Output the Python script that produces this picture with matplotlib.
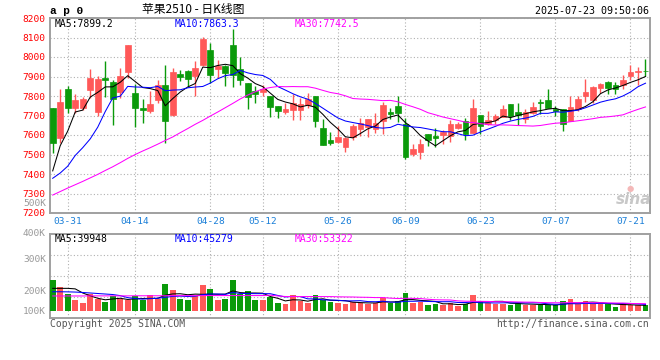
import numpy as np
import pandas as pd
import matplotlib
matplotlib.use('Agg')
import matplotlib.pyplot as plt

# trading days (exchange holidays removed)
holidays = ['2025-04-04', '2025-05-01', '2025-05-02', '2025-05-05', '2025-06-02']
days = pd.bdate_range('2025-03-27', '2025-07-23')
days = days[~days.isin(pd.to_datetime(holidays))]
day_labels = list(days.strftime('%m-%d'))
tick_dates = ['03-31', '04-14', '04-28', '05-12', '05-26', '06-09', '06-23', '07-07', '07-21']

opens = [7737, 7587, 7838, 7738, 7738, 7830, 7717, 7891, 7874, 7821,
         7921, 7813, 7741, 7723, 7782, 7854, 7702, 7915, 7928, 7904,
         7961, 8037, 7939, 7955, 8063, 7940, 7869, 7828, 7821, 7802,
         7751, 7717, 7728, 7726, 7753, 7802, 7634, 7573, 7563, 7539,
         7590, 7629, 7643, 7632, 7672, 7719, 7748, 7655, 7502, 7513,
         7604, 7593, 7600, 7595, 7634, 7672, 7612, 7700, 7655, 7675,
         7692, 7757, 7719, 7680, 7714, 7770, 7777, 7731, 7731, 7672,
         7731, 7799, 7779, 7842, 7872, 7854, 7854, 7901, 7921, 7930]
highs = [7740, 7838, 7853, 7811, 7795, 7938, 7903, 7981, 7884, 7944,
         8063, 7859, 7784, 7828, 7884, 7961, 7944, 7935, 7935, 7981,
         8102, 8071, 7986, 7960, 8144, 7998, 7869, 7853, 7855, 7802,
         7751, 7765, 7811, 7791, 7816, 7802, 7680, 7617, 7646, 7590,
         7658, 7689, 7683, 7711, 7770, 7740, 7802, 7685, 7553, 7578,
         7604, 7634, 7624, 7675, 7668, 7689, 7787, 7700, 7723, 7709,
         7753, 7757, 7765, 7731, 7770, 7786, 7838, 7748, 7731, 7802,
         7799, 7889, 7850, 7869, 7877, 7872, 7910, 7957, 7949, 7991]
lows = [7510, 7561, 7711, 7711, 7730, 7791, 7697, 7797, 7651, 7791,
        7893, 7641, 7661, 7711, 7765, 7561, 7700, 7879, 7845, 7802,
        7955, 7867, 7893, 7850, 7845, 7855, 7731, 7763, 7799, 7692,
        7689, 7706, 7677, 7675, 7740, 7641, 7549, 7549, 7560, 7513,
        7576, 7595, 7590, 7612, 7604, 7680, 7668, 7478, 7493, 7476,
        7544, 7536, 7553, 7566, 7629, 7575, 7610, 7604, 7651, 7655,
        7690, 7675, 7651, 7663, 7706, 7709, 7736, 7697, 7621, 7670,
        7723, 7770, 7765, 7816, 7808, 7808, 7838, 7881, 7855, 7904]
closes = [7560, 7768, 7741, 7782, 7787, 7894, 7889, 7881, 7784, 7904,
          8063, 7738, 7728, 7757, 7854, 7672, 7923, 7896, 7886, 7944,
          8091, 7910, 7952, 7916, 7910, 7884, 7797, 7811, 7838, 7743,
          7723, 7731, 7765, 7757, 7787, 7672, 7549, 7559, 7590, 7585,
          7644, 7660, 7680, 7660, 7753, 7709, 7711, 7485, 7527, 7553,
          7573, 7585, 7614, 7655, 7655, 7607, 7736, 7646, 7675, 7697,
          7731, 7697, 7702, 7719, 7745, 7762, 7736, 7723, 7658, 7746,
          7787, 7818, 7845, 7864, 7842, 7836, 7884, 7923, 7930, 7927]
# volume in thousands of lots
volumes = [298, 233, 162, 104, 78, 162, 113, 87, 143, 113,
           104, 143, 104, 152, 113, 259, 201, 113, 104, 143,
           250, 211, 104, 113, 298, 168, 191, 104, 104, 136,
           81, 65, 159, 94, 78, 159, 104, 87, 81, 72,
           87, 81, 72, 78, 126, 78, 94, 175, 81, 87,
           55, 65, 62, 81, 49, 72, 152, 94, 78, 72,
           72, 62, 81, 55, 62, 55, 62, 55, 94, 113,
           65, 94, 65, 72, 65, 39, 72, 55, 55, 55]

ma5_head = [7416, 7545, 7620, 7718]
ma10_head = [7378, 7405, 7440, 7495, 7535, 7580, 7640, 7720, 7790]
ma30_head = [7292, 7310, 7328, 7345, 7362, 7380, 7398, 7418, 7437, 7458,
             7480, 7500, 7518, 7535, 7553, 7572, 7590, 7612, 7633, 7655,
             7675, 7697, 7718, 7740, 7762, 7785, 7805, 7822, 7836]
vma5_head = [220, 220, 220, 215]
vma10_head = [187, 187, 186, 184, 180, 175, 170, 165, 160]
vma30_head = [146, 146, 146, 146, 146, 147, 147, 147, 147, 147,
              147, 148, 148, 148, 148, 148, 149, 149, 149, 149,
              150, 150, 150, 150, 150, 150, 150, 150, 150]


def moving_avg(vals, n, head):
    s = pd.Series(vals, dtype=float).rolling(n).mean().values
    s[:n - 1] = head
    return s


RED = '#ff5858'
GREEN = '#0a9a0a'
GRID = '#b0b0b0'
FRAME = '#a0a0a0'
MONO = 'DejaVu Sans Mono'
LW = 0.75

x = np.arange(len(closes))
o = np.array(opens)
c = np.array(closes)
up = c >= o
colors = np.where(up, RED, GREEN)

fig = plt.figure(figsize=(6.6, 3.6), dpi=100)
W, H = 660, 360


def px(xp, yp):
    return xp / W, 1 - yp / H


ax = fig.add_axes([50 / W, 1 - 213 / H, 600 / W, 195 / H])
vax = fig.add_axes([50 / W, 1 - 318 / H, 600 / W, 84 / H])

xlim = (-0.36, 79.6)
tick_idx = [day_labels.index(d) for d in tick_dates]

# candles
ax.vlines(x, lows, highs, colors=colors, lw=1.0, zorder=3)
ax.bar(x, np.abs(c - o), bottom=np.minimum(o, c), width=0.75, color=colors,
       edgecolor=colors, lw=0.5, zorder=4)
ax.plot(x, moving_avg(closes, 5, ma5_head), color='black', lw=LW, zorder=5)
ax.plot(x, moving_avg(closes, 10, ma10_head), color='#0000ff', lw=LW, zorder=5)
ax.plot(x, moving_avg(closes, 30, ma30_head), color='#ff00ff', lw=LW, zorder=5)

ax.set_xlim(*xlim)
ax.set_ylim(7200, 8200)
ax.set_yticks(np.arange(7200, 8201, 100))
ax.set_yticklabels([str(v) for v in range(7200, 8201, 100)], color='#ff0000',
                   fontsize=6.8, family=MONO)
ax.set_xticks(tick_idx)
ax.set_xticklabels(tick_dates, color='#1a7fd8', fontsize=6.8, family=MONO)
ax.tick_params(length=0, pad=3)
ax.grid(True, color=GRID, ls=(0, (1, 2)), lw=0.8)
for s in ax.spines.values():
    s.set_color(FRAME)
    s.set_linewidth(1.4)

# volume
vax.bar(x, volumes, width=0.75, color=colors, zorder=3)
vax.plot(x, moving_avg(volumes, 5, vma5_head), color='black', lw=LW, zorder=4)
vax.plot(x, moving_avg(volumes, 10, vma10_head), color='#0000ff', lw=LW, zorder=4)
vax.plot(x, moving_avg(volumes, 30, vma30_head), color='#ff00ff', lw=LW, zorder=4)
vlo, vhi = -68, 748
vax.set_ylim(vlo, vhi)
vax.set_xlim(*xlim)
vax.set_yticks([vlo + f * (vhi - vlo) for f in (0.25, 0.5, 0.75)])
vax.set_yticklabels([])
vax.set_xticks(tick_idx)
vax.set_xticklabels([])
vax.tick_params(length=0)
vax.grid(True, color=GRID, ls=(0, (1, 2)), lw=0.8)
for s in vax.spines.values():
    s.set_color(FRAME)
    s.set_linewidth(1.4)

# volume axis labels (as drawn by the source)
for lab, yp in [('500K', 203), ('400K', 233), ('300K', 259), ('200K', 291), ('100K', 311)]:
    fig.text(*px(46, yp), lab, ha='right', va='center', color='#999999',
             fontsize=6.8, family=MONO)

# header texts
fig.text(*px(50, 11), 'a p 0', ha='left', va='center', fontsize=8,
         family='Liberation Mono', weight='bold')
fig.text(*px(142, 10), '苹果2510 - 日K线图', ha='left', va='center', fontsize=8.5,
         family=['Noto Sans CJK SC', 'DejaVu Sans'])
fig.text(*px(649, 11), '2025-07-23 09:50:06', ha='right', va='center',
         fontsize=7.2, family=MONO)

fig.text(*px(55, 24), 'MA5:7899.2', ha='left', va='center', fontsize=7, family=MONO)
fig.text(*px(175, 24), 'MA10:7863.3', ha='left', va='center', fontsize=7,
         family=MONO, color='#0000ff')
fig.text(*px(295, 24), 'MA30:7742.5', ha='left', va='center', fontsize=7,
         family=MONO, color='#ff00ff')

fig.text(*px(55, 239), 'MA5:39948', ha='left', va='center', fontsize=7, family=MONO)
fig.text(*px(175, 239), 'MA10:45279', ha='left', va='center', fontsize=7,
         family=MONO, color='#0000ff')
fig.text(*px(295, 239), 'MA30:53322', ha='left', va='center', fontsize=7,
         family=MONO, color='#ff00ff')

fig.text(*px(50, 324), 'Copyright 2025 SINA.COM', ha='left', va='center',
         fontsize=7, family=MONO, color='#555555')
fig.text(*px(649, 324), 'http://finance.sina.com.cn', ha='right', va='center',
         fontsize=7, family=MONO, color='#555555')

# sina watermark
fig.text(*px(651, 200), 'sina', ha='right', va='center', fontsize=11,
         weight='bold', style='italic', color='#c8c8c8', family='DejaVu Sans')
fig.text(*px(630, 189), '●', ha='center', va='center', fontsize=6,
         color='#f4b8b8', family='DejaVu Sans')

fig.savefig('out.png', dpi=100)
